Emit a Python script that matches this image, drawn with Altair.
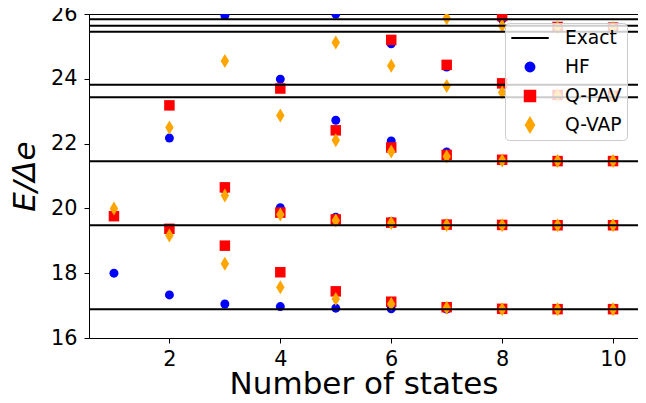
import altair as alt
import pandas as pd

states = list(range(1, 11))

exact = [16.885, 19.483, 21.453, 23.433, 23.813, 25.452, 25.638, 25.836]

hf = [
    [18.00],
    [17.33, 22.17],
    [17.05, 20.58, 25.95],
    [16.97, 20.02, 23.99],
    [16.92, 19.73, 22.72, 26.00],
    [16.90, 19.60, 22.08, 25.08],
    [16.89, 19.52, 21.74, 24.36],
    [16.89, 19.50, 21.50, 23.82, 25.84],
    [16.89, 19.49, 21.46, 23.50, 25.60],
    [16.885, 19.485, 21.455, 23.47, 25.58],
]
qpav = [
    [19.76],
    [19.37, 23.18],
    [18.85, 20.65],
    [18.03, 19.87, 23.70],
    [17.44, 19.66, 22.41],
    [17.12, 19.56, 21.88, 25.20],
    [16.95, 19.50, 21.65, 24.43],
    [16.90, 19.49, 21.50, 23.86, 25.94],
    [16.89, 19.48, 21.46, 23.50, 25.60],
    [16.89, 19.48, 21.46, 23.48, 25.58],
]
qvap = [
    [20.00],
    [19.16, 22.50],
    [18.29, 20.40, 24.55],
    [17.57, 19.81, 22.87],
    [17.20, 19.63, 22.10, 25.12],
    [17.05, 19.55, 21.76, 24.40],
    [16.93, 19.49, 21.60, 23.78, 25.87],
    [16.89, 19.48, 21.48, 23.58, 25.64],
    [16.89, 19.48, 21.46, 23.50, 25.58],
    [16.89, 19.48, 21.46, 23.48, 25.57],
]

series_names = ["Exact", "HF", "Q-PAV", "Q-VAP"]
series_colors = ["#000000", "#0000ff", "#ff0000", "#ffa500"]
diamond = "M0,-1L0.6,0L0,1L-0.6,0Z"
series_shapes = ["stroke", "circle", "square", diamond]
series_sizes = [1400, 80, 110, 196]

rows = []
for name, vals in [("HF", hf), ("Q-PAV", qpav), ("Q-VAP", qvap)]:
    for n, es in zip(states, vals):
        for e in es:
            rows.append({"n": n, "E": e, "series": name})
pts_df = pd.DataFrame(rows)
ex_df = pd.DataFrame({"E": exact, "series": ["Exact"] * len(exact)})

FONT = "DejaVu Sans"

xscale = alt.Scale(domain=[0.55, 10.45], nice=False, zero=False)
yscale = alt.Scale(domain=[16, 26], nice=False, zero=False)
xaxis = alt.Axis(values=[2, 4, 6, 8, 10], title="Number of states", format="d",
                 labelPadding=6, titlePadding=1)
yaxis = alt.Axis(values=[16, 18, 20, 22, 24, 26], title="E/Δe", format="d",
                 labelPadding=7, titlePadding=9, titleFontStyle="italic")

legend = alt.Legend(
    title=None, orient="none", legendX=416, legendY=9,
    labelFontSize=18.7, labelFont=FONT, labelColor="black",
    symbolStrokeWidth=2, clipHeight=20,
    fillColor="rgba(255,255,255,0.8)", strokeColor="#cccccc", cornerRadius=4,
    padding=5, rowPadding=9, labelOffset=15,
)

color_scale = alt.Scale(domain=series_names, range=series_colors)

points = alt.Chart(pts_df).mark_point(filled=True, opacity=1, clip=True).encode(
    x=alt.X("n:Q", scale=xscale, axis=xaxis),
    y=alt.Y("E:Q", scale=yscale, axis=yaxis),
    color=alt.Color("series:N", scale=color_scale, legend=legend),
    shape=alt.Shape("series:N", scale=alt.Scale(domain=series_names, range=series_shapes), legend=legend),
    size=alt.Size("series:N", scale=alt.Scale(type="ordinal", domain=series_names, range=series_sizes), legend=legend),
)

lines = alt.Chart(ex_df).mark_rule(strokeWidth=2).encode(
    y=alt.Y("E:Q", scale=yscale),
    color=alt.Color("series:N", scale=color_scale, legend=legend),
)

chart = alt.layer(points, lines).properties(
    width=549, height=324,
    autosize=alt.AutoSizeParams(type="none"),
    padding={"left": 81, "top": 6, "right": 0, "bottom": 57},
).configure_view(
    stroke="black", strokeWidth=1
).configure_axis(
    grid=False, domainColor="black", tickColor="black", domainWidth=1, tickWidth=1,
    tickSize=5, labelColor="black", titleColor="black", labelFont=FONT, titleFont=FONT,
    labelFontSize=20.8, titleFontSize=31, titleFontWeight="normal",
)

chart.save("out.html", embed_options={"renderer": "svg", "actions": False})
